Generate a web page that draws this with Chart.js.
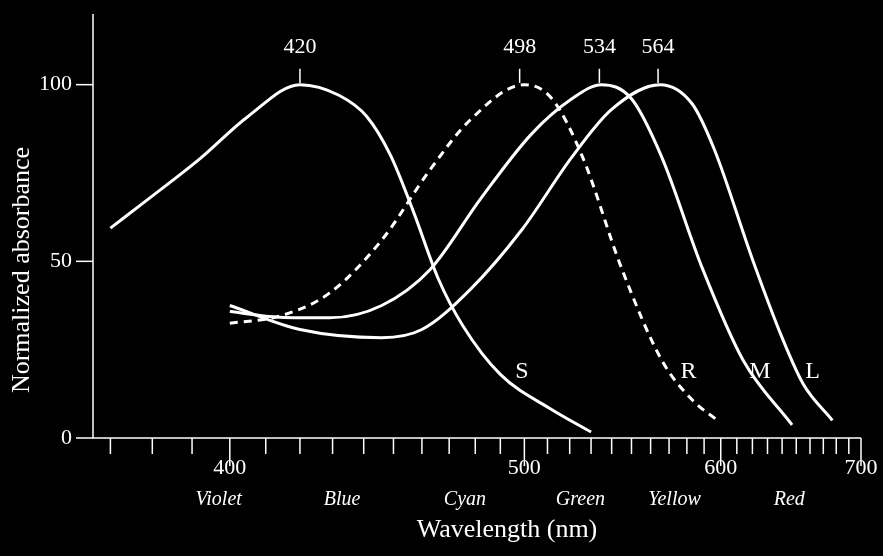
<!DOCTYPE html>
<html>
<head>
<meta charset="utf-8">
<script src="https://cdn.jsdelivr.net/npm/chart.js@4/dist/chart.umd.min.js"></script>
<style>
  html, body { margin: 0; padding: 0; background: #000; }
</style>
</head>
<body>
<canvas id="myChart" width="883" height="556"></canvas>
<script>
// curves: wavelength (nm) and normalized absorbance
let sWave = [370, 379, 392, 405, 420, 432, 441, 449, 457, 466, 475, 490, 512, 530];
let sAbs = [59.4, 67.6, 79, 91, 100, 97, 91, 80, 64, 45, 32, 18, 8, 1.7];

let rWave = [400, 414, 429, 446, 463, 478, 500, 512, 526, 545, 566, 583, 598];
let rAbs = [32.5, 34.5, 41, 56, 76, 90, 100, 96, 79.5, 48, 22, 10.8, 5];

let mWave = [400, 414, 429, 446, 463, 482, 503, 521, 535, 550, 566, 589, 614, 647];
let mAbs = [35.8, 34.2, 34, 37.5, 47.7, 67.6, 86, 96, 100, 96, 79.5, 48, 22, 3.7];

let lWave = [400, 420, 446, 460, 478, 499, 521, 540, 565, 583, 596, 620, 640, 655, 677];
let lAbs = [37.5, 30.7, 28.4, 30.7, 42, 59, 79.5, 93, 100, 94.6, 81.8, 50.6, 28.4, 15.3, 5];

let curveNames = ['S', 'R', 'M', 'L'];
let curveLabelWave = [499, 581, 625, 662];
let peakWaves = [420, 498, 534, 564];
let majorTicks = [400, 500, 600, 700];
let yTicks = [0, 50, 100];
let colorNames = ['Violet', 'Blue', 'Cyan', 'Green', 'Yellow', 'Red'];
let colorWave = [397, 433, 476, 525, 573, 645];

const toX = w => 1e7 / w;
const pts = (ws, as) => ws.map((w, i) => ({ x: toX(w), y: as[i] }));

const serif = '"Liberation Serif", "DejaVu Serif", serif';

const axesPlugin = {
    id: 'axesPlugin',
    afterDraw(chart) {
        const ctx = chart.ctx;
        const xs = chart.scales.x, ys = chart.scales.y;
        const a = chart.chartArea;
        ctx.save();
        ctx.strokeStyle = '#fff';
        ctx.fillStyle = '#fff';
        ctx.lineWidth = 1.5;
        // axis lines
        ctx.beginPath();
        ctx.moveTo(a.left, a.top); ctx.lineTo(a.left, a.bottom); ctx.lineTo(a.right, a.bottom);
        ctx.stroke();
        // x ticks
        for (let w = 370; w <= 700; w += 10) {
            const px = xs.getPixelForValue(toX(w));
            const len = majorTicks.includes(w) ? 28 : 16;
            ctx.beginPath(); ctx.moveTo(px, a.bottom); ctx.lineTo(px, a.bottom + len); ctx.stroke();
        }
        ctx.font = '22px ' + serif;
        ctx.textAlign = 'center';
        ctx.textBaseline = 'middle';
        majorTicks.forEach(w => ctx.fillText(String(w), xs.getPixelForValue(toX(w)), a.bottom + 30));
        ctx.font = 'italic 20px ' + serif;
        colorNames.forEach((n, i) => ctx.fillText(n, xs.getPixelForValue(toX(colorWave[i])), a.bottom + 62));
        ctx.font = '26px ' + serif;
        ctx.fillText('Wavelength (nm)', (a.left + a.right) / 2 + 30, a.bottom + 92);
        // y ticks
        ctx.textAlign = 'right';
        ctx.font = '22px ' + serif;
        yTicks.forEach(v => {
            const py = ys.getPixelForValue(v);
            ctx.beginPath(); ctx.moveTo(a.left - 17, py); ctx.lineTo(a.left, py); ctx.stroke();
            ctx.fillText(String(v), a.left - 21, py);
        });
        ctx.save();
        ctx.translate(22, 270);
        ctx.rotate(-Math.PI / 2);
        ctx.textAlign = 'center';
        ctx.font = '26px ' + serif;
        ctx.fillText('Normalized absorbance', 0, 0);
        ctx.restore();
        // peak labels
        ctx.textAlign = 'center';
        ctx.font = '22px ' + serif;
        peakWaves.forEach(w => {
            const px = xs.getPixelForValue(toX(w));
            ctx.beginPath(); ctx.moveTo(px, ys.getPixelForValue(104.5)); ctx.lineTo(px, ys.getPixelForValue(100.5)); ctx.stroke();
            ctx.fillText(String(w), px, ys.getPixelForValue(110.5));
        });
        // curve names
        ctx.font = '24px ' + serif;
        curveNames.forEach((n, i) => ctx.fillText(n, xs.getPixelForValue(toX(curveLabelWave[i])), ys.getPixelForValue(18.8)));
        ctx.restore();
    }
};

const lineStyle = { borderColor: '#fff', borderWidth: 3, pointRadius: 0, fill: false, cubicInterpolationMode: 'monotone' };

new Chart(document.getElementById('myChart').getContext('2d'), {
    type: 'line',
    data: {
        datasets: [
            Object.assign({ label: 'S', data: pts(sWave, sAbs) }, lineStyle),
            Object.assign({ label: 'R', data: pts(rWave, rAbs), borderDash: [8, 6] }, lineStyle),
            Object.assign({ label: 'M', data: pts(mWave, mAbs) }, lineStyle),
            Object.assign({ label: 'L', data: pts(lWave, lAbs) }, lineStyle)
        ]
    },
    options: {
        responsive: false,
        animation: false,
        devicePixelRatio: 1,
        layout: { padding: { left: 93, right: 22, top: 14, bottom: 118 } },
        plugins: { legend: { display: false }, tooltip: { enabled: false } },
        scales: {
            x: { type: 'linear', reverse: true, min: toX(700), max: toX(366), display: false },
            y: { min: 0, max: 120, display: false }
        }
    },
    plugins: [axesPlugin]
});
</script>
</body>
</html>
